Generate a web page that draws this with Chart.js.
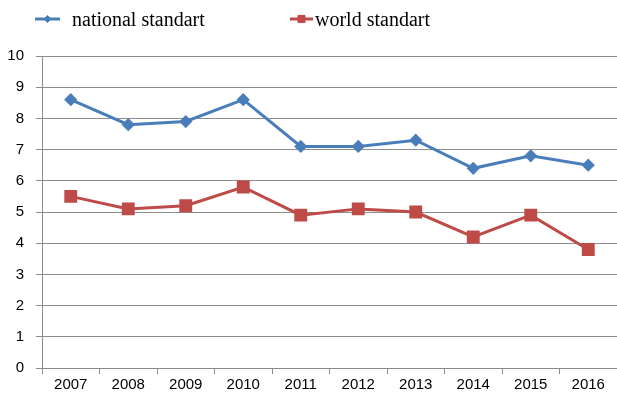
<!DOCTYPE html>
<html>
<head>
<meta charset="utf-8">
<script src="https://cdn.jsdelivr.net/npm/chart.js@4"></script>
<style>
  html, body { margin: 0; padding: 0; background: #fff; overflow: hidden; }
  canvas { display: block; }
</style>
</head>
<body>
<canvas id="chart" width="617" height="403"></canvas>
<script>
// data
const years = ["2007", "2008", "2009", "2010", "2011", "2012", "2013", "2014", "2015", "2016"];
const nationalStandart = [8.6, 7.8, 7.9, 8.6, 7.1, 7.1, 7.3, 6.4, 6.8, 6.5];
const worldStandart = [5.5, 5.1, 5.2, 5.8, 4.9, 5.1, 5.0, 4.2, 4.9, 3.8];
const yTicks = [0, 1, 2, 3, 4, 5, 6, 7, 8, 9, 10];

const blue = "#4A7EBB";
const red = "#BE4B48";
const gridGray = "#8c8c8c";

// legend drawn on top of the canvas, spaced like the original
const topLegend = {
  id: "topLegend",
  afterDraw(chart) {
    const ctx = chart.ctx;
    const spots = [{ x: 35, len: 25 }, { x: 290, len: 23 }];
    const y = 19;
    chart.data.datasets.forEach((ds, i) => {
      const s = spots[i];
      ctx.save();
      ctx.strokeStyle = ds.borderColor;
      ctx.fillStyle = ds.backgroundColor;
      ctx.lineWidth = 3;
      ctx.beginPath();
      ctx.moveTo(s.x, y);
      ctx.lineTo(s.x + s.len, y);
      ctx.stroke();
      ctx.lineWidth = 1;
      Chart.helpers.drawPoint(ctx, {
        pointStyle: ds.pointStyle,
        radius: ds.pointStyle === "rect" ? 5 : 3.5,
        borderWidth: 1
      }, s.x + s.len / 2, y);
      ctx.fillStyle = "#000";
      ctx.font = "20px 'Liberation Serif'";
      ctx.textBaseline = "alphabetic";
      ctx.fillText(ds.label, s.x + s.len + (i === 0 ? 12 : 2), y + 7);
      ctx.restore();
    });
  }
};

new Chart(document.getElementById("chart"), {
  type: "line",
  data: {
    labels: years,
    datasets: [
      {
        label: "national standart",
        data: nationalStandart,
        borderColor: blue,
        backgroundColor: blue,
        borderWidth: 3,
        pointStyle: "rectRot",
        pointRadius: 4.5,
        pointHoverRadius: 4.5,
        tension: 0
      },
      {
        label: "world standart",
        data: worldStandart,
        borderColor: red,
        backgroundColor: red,
        borderWidth: 3,
        pointStyle: "rect",
        pointRadius: 7,
        pointHoverRadius: 7,
        tension: 0
      }
    ]
  },
  options: {
    responsive: false,
    animation: false,
    layout: { autoPadding: false, padding: { top: 56, right: 0, bottom: 7, left: 0 } },
    plugins: {
      legend: { display: false },
      tooltip: { enabled: false }
    },
    scales: {
      x: {
        offset: true,
        afterFit: scale => { scale.paddingLeft = 0; scale.paddingRight = 0; },
        grid: {
          offset: true,
          drawOnChartArea: false,
          drawTicks: true,
          tickLength: 6,
          color: gridGray
        },
        border: { color: gridGray, width: 1 },
        ticks: {
          color: "#000",
          font: { family: "'Liberation Sans'", size: 15 },
          padding: 2,
          maxRotation: 0
        }
      },
      y: {
        min: 0,
        max: 10,
        afterBuildTicks: scale => {
          scale.ticks = yTicks.map(v => ({ value: v }));
        },
        afterFit: scale => { scale.width = 42; },
        grid: {
          color: gridGray,
          lineWidth: 1,
          drawTicks: true,
          tickLength: 6
        },
        border: { color: gridGray, width: 1 },
        ticks: {
          color: "#000",
          font: { family: "'Liberation Sans'", size: 15 },
          padding: 12
        }
      }
    }
  },
  plugins: [topLegend]
});
</script>
</body>
</html>
